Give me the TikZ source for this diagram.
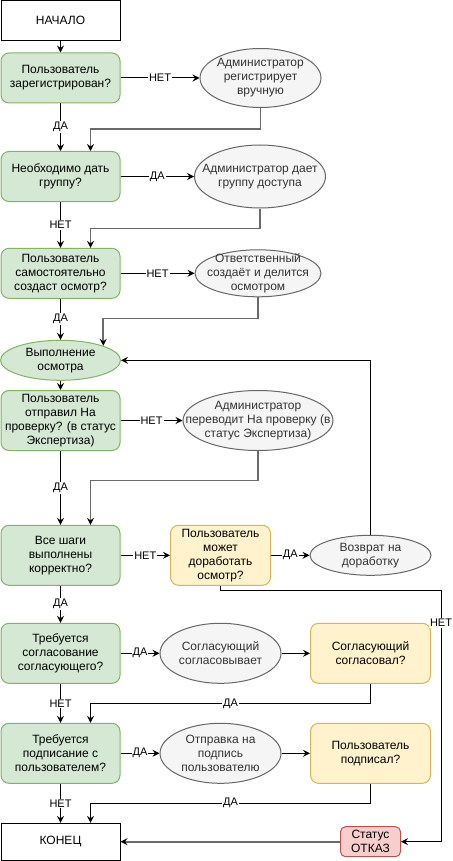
\documentclass[tikz,border=0pt]{standalone}
\usepackage{fontspec}
\setmainfont{Liberation Sans}
\usetikzlibrary{arrows.meta,shapes.geometric,calc}
\definecolor{gfill}{HTML}{D5E8D4}
\definecolor{gline}{HTML}{82B366}
\definecolor{yfill}{HTML}{FFF2CC}
\definecolor{yline}{HTML}{D6B656}
\definecolor{rfill}{HTML}{F8CECC}
\definecolor{rline}{HTML}{B85450}
\definecolor{efill}{HTML}{F5F5F5}
\definecolor{eline}{HTML}{666666}
\definecolor{etext}{HTML}{333333}
\definecolor{conngray}{HTML}{6A6A6A}
\begin{document}
\begin{tikzpicture}[x=1pt,y=-1pt,
  txt/.style={font=\fontsize{12}{14}\selectfont, align=center},
  etxt/.style={txt, text=etext},
  term/.style={draw=black, fill=white, line width=1pt, minimum width=119pt, minimum height=40pt, txt, inner sep=0pt},
  qbox/.style={draw=gline, fill=gfill, line width=1pt, rounded corners=8pt, minimum width=119pt, minimum height=60pt, txt, inner sep=0pt},
  ybox/.style={draw=yline, fill=yfill, line width=1pt, rounded corners=8pt, minimum width=100pt, minimum height=60pt, txt, inner sep=0pt},
  rbox/.style={draw=rline, fill=rfill, line width=1pt, rounded corners=5pt, minimum width=60pt, minimum height=30pt, txt, inner sep=0pt},
  gell/.style={ellipse, draw=eline, fill=efill, line width=1pt, inner sep=0pt},
  grell/.style={ellipse, draw=gline, fill=gfill, line width=1pt, inner sep=0pt},
  arr/.style={draw=black, line width=1pt, -{Stealth[length=7pt,width=7pt,inset=2.5pt,black]}},
  garr/.style={arr, draw=conngray, line width=1.6pt},
  elbl/.style={fill=white, inner sep=1pt, font=\fontsize{11}{13}\selectfont}
]
\useasboundingbox (0,0) rectangle (452,861);

% left column
\node[term] (start) at (60.5,20.5) {НАЧАЛО};
\node[qbox, minimum height=50pt] (q1) at (60.5,78) {Пользователь\\зарегистрирован?};
\node[qbox, minimum height=50pt] (q2) at (60.5,176.5) {Необходимо дать\\группу?};
\node[qbox, minimum height=50pt] (q3) at (60.5,273.3) {Пользователь\\самостоятельно\\создаст осмотр?};
\node[grell, minimum width=120pt, minimum height=40pt, label={[txt]center:{Выполнение\\осмотра}}] (e4) at (60.5,360.3) {};
\node[qbox] (q4) at (60.5,420.5) {Пользователь\\отправил На\\проверку? (в статус\\Экспертиза)};
\node[qbox] (q5) at (60.5,555.3) {Все шаги\\выполнены\\корректно?};
\node[qbox] (q6) at (60.5,653.3) {Требуется\\согласование\\согласующего?};
\node[qbox] (q7) at (60.5,753.3) {Требуется\\подписание с\\пользователем?};
\node[term, minimum height=36.7pt] (end) at (60.5,841.7) {КОНЕЦ};

% right side
\node[gell, minimum width=121pt, minimum height=59pt, label={[etxt]center:{Администратор\\регистрирует\\вручную}}] (e1) at (260.5,78) {};
\node[gell, minimum width=131pt, minimum height=63pt, label={[etxt]center:{Администратор дает\\группу доступа}}] (e2) at (260,176.5) {};
\node[gell, minimum width=126pt, minimum height=47pt, label={[etxt]center:{Ответственный\\создаёт и делится\\осмотром}}] (e3) at (258,273.3) {};
\node[gell, minimum width=150pt, minimum height=60pt, label={[etxt]center:{Администратор\\переводит На проверку (в\\статус Экспертиза)}}] (e5) at (258,420.5) {};
\node[ybox] (y1) at (220.5,555.3) {Пользователь\\может\\доработать\\осмотр?};
\node[gell, minimum width=121pt, minimum height=40pt, label={[etxt]center:{Возврат на\\доработку}}] (r) at (370.5,555.3) {};
\node[gell, minimum width=121pt, minimum height=60pt, label={[etxt]center:{Согласующий\\согласовывает}}] (e6) at (220.5,653.3) {};
\node[ybox, minimum width=120pt] (y2) at (370.5,653.3) {Согласующий\\согласовал?};
\node[gell, minimum width=121pt, minimum height=60pt, label={[etxt]center:{Отправка на\\подпись\\пользователю}}] (e7) at (220.5,753.3) {};
\node[ybox, minimum width=120pt] (y3) at (370.5,753.3) {Пользователь\\подписал?};
\node[rbox] (otkaz) at (370.5,841.7) {Статус\\ОТКАЗ};

\coordinate (c1) at (441,590);
\coordinate (c2) at (441,841.7);

% connectors
\draw[arr] (start) -- (q1);
\draw[arr] (q1.east) -- node[elbl]{НЕТ} (e1.west);
\draw[arr] (q1) -- node[elbl]{ДА} (q2);
\draw[garr] (e1.south) -- ++(0,21) -| ($(q2.north)+(30,0)$);

\draw[arr] (q2.east) -- node[elbl]{ДА} (e2.west);
\draw[arr] (q2) -- node[elbl]{НЕТ} (q3);
\draw[garr] (e2.south) -- ++(0,20) -| ($(q3.north)+(30,0)$);

\draw[arr] (q3.east) -- node[elbl]{НЕТ} (e3.west);
\draw[arr] (q3) -- node[elbl]{ДА} (e4);
\draw[garr] (e3.south) -- ++(0,21) -| (e4.north east);

\draw[arr] (e4) -- (q4);
\draw[arr] (q4.east) -- node[elbl]{НЕТ} (e5.west);
\draw[arr] (q4) -- node[elbl]{ДА} (q5);
\draw[garr] (e5.south) -- ++(0,29.5) -| ($(q5.north)+(30,0)$);

\draw[arr] (q5.east) -- node[elbl]{НЕТ} (y1.west);
\draw[arr] (y1.east) -- node[elbl]{ДА} (r.west);
\draw[arr] (r.north) |- (e4.east);
\draw[arr] (y1.south) |- (c1) -- node[elbl,pos=0.13]{НЕТ} (c2) -- (otkaz.east);
\draw[arr] (q5) -- node[elbl]{ДА} (q6);

\draw[arr] (q6.east) -- node[elbl]{ДА} (e6.west);
\draw[arr] (e6.east) -- (y2.west);
\draw[arr] (q6) -- node[elbl]{НЕТ} (q7);
\draw[arr] (y2.south) -- ++(0,20) -| node[elbl,pos=0.25]{ДА} ($(q7.north)+(30,0)$);

\draw[arr] (q7.east) -- node[elbl]{ДА} (e7.west);
\draw[arr] (e7.east) -- (y3.west);
\draw[arr] (q7) -- node[elbl]{НЕТ} (end);
\draw[arr] (y3.south) -- ++(0,19.5) -| node[elbl,pos=0.25]{ДА} ($(end.north)+(30,0)$);

\draw[garr] (otkaz.west) -- (end.east);
\end{tikzpicture}
\end{document}
